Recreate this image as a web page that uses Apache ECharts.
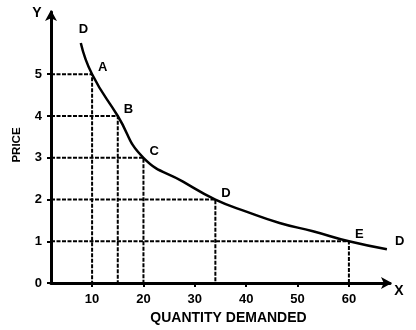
<!DOCTYPE html>
<html><head><meta charset="utf-8">
<script src="https://cdn.jsdelivr.net/npm/echarts@6/dist/echarts.min.js"></script>
<style>html,body{margin:0;padding:0;background:#fff}#c{width:416px;height:330px}</style>
</head><body><div id="c"></div>
<script>
// Demand curve points (quantity, price)
const curveX = [7.8, 10, 15, 20, 27.7, 34, 40.3, 46.5, 53, 60, 67.4];
const curveY = [5.75, 5, 4, 3, 2.43, 2, 1.7, 1.44, 1.24, 1, 0.81];
// Labelled points
const pointNames = ['A', 'B', 'C', 'D', 'E'];
const pointX = [10, 15, 20, 34, 60];
const pointY = [5, 4, 3, 2, 1];
// Curve end labels
const endNames = ['D', 'D'];
const endX = [7.8, 67.4];
const endY = [5.75, 0.81];
// Ticks
const xTicks = [10, 20, 30, 40, 50, 60];
const yTicks = [0, 1, 2, 3, 4, 5];

const X_MIN = 2, X_MAX = 68, Y_MIN = 0, Y_MAX = 6.49;
const FONT = 'Liberation Sans';

const chart = echarts.init(document.getElementById('c'), null, {renderer: 'canvas'});
const dashStyle = {color: '#000', width: 2, type: [4, 1.5]};
const series = [];
pointX.forEach((x, i) => {
  series.push({
    type: 'line', silent: true, symbol: 'none', z: 1,
    data: [[X_MIN, pointY[i]], [x, pointY[i]], [x, Y_MIN]],
    lineStyle: dashStyle
  });
});
series.push({
  type: 'line', smooth: 0.5, symbol: 'none', z: 3,
  data: curveX.map((x, i) => [x, curveY[i]]),
  lineStyle: {color: '#000', width: 2.5}
});
const lbl = {fontFamily: FONT, fontWeight: 'bold', fontSize: 13, color: '#000'};
series.push({
  type: 'scatter', symbolSize: 0, z: 4, itemStyle: {opacity: 1},
  data: pointX.map((x, i) => ({value: [x, pointY[i]], name: pointNames[i]})),
  label: Object.assign({show: true, position: [6, -13], formatter: p => p.name}, lbl)
});
series.push({
  type: 'scatter', symbolSize: 0, z: 4, itemStyle: {opacity: 1},
  data: [
    {value: [endX[0], endY[0]], name: endNames[0], label: {position: [-2, -20]}},
    {value: [endX[1], endY[1]], name: endNames[1], label: {position: [8, -14]}}
  ],
  label: Object.assign({show: true, formatter: p => p.name}, lbl)
});

chart.setOption({
  animation: false,
  grid: {left: 51, top: 12, width: 339, height: 276, containLabel: false},
  xAxis: {
    type: 'value', min: X_MIN, max: X_MAX,
    name: 'QUANTITY DEMANDED', nameLocation: 'middle', nameGap: 27,
    nameTextStyle: {fontFamily: FONT, fontWeight: 'bold', fontSize: 14, color: '#000', padding: [0, 0, 0, 16]},
    axisLine: {show: true, onZero: false, symbol: ['none', 'arrow'], symbolSize: [9, 11], symbolOffset: [0, 2],
      lineStyle: {color: '#000', width: 3}},
    axisTick: {show: true, length: 4, customValues: xTicks, lineStyle: {color: '#000', width: 2}},
    axisLabel: {customValues: xTicks, margin: 10, fontFamily: FONT, fontWeight: 'bold', fontSize: 13, color: '#000'},
    splitLine: {show: false}
  },
  yAxis: {
    type: 'value', min: Y_MIN, max: Y_MAX,
    axisLine: {show: true, onZero: false, symbol: ['none', 'arrow'], symbolSize: [9, 11], symbolOffset: [0, 2],
      lineStyle: {color: '#000', width: 3}},
    axisTick: {show: true, length: 4, customValues: yTicks, lineStyle: {color: '#000', width: 2}},
    axisLabel: {customValues: yTicks, margin: 9, fontFamily: FONT, fontWeight: 'bold', fontSize: 13, color: '#000'},
    splitLine: {show: false}
  },
  graphic: [
    {type: 'text', x: 37, y: 13, style: {text: 'Y', font: 'bold 14px "Liberation Sans"', fill: '#000', align: 'center', verticalAlign: 'middle'}},
    {type: 'text', x: 399, y: 291, style: {text: 'X', font: 'bold 14px "Liberation Sans"', fill: '#000', align: 'center', verticalAlign: 'middle'}},
    {type: 'text', x: 17, y: 145, rotation: Math.PI / 2, style: {text: 'PRICE', font: 'bold 11.5px "Liberation Sans"', fill: '#000', align: 'center', verticalAlign: 'middle'}}
  ],
  series: series
});
</script>
</body></html>
